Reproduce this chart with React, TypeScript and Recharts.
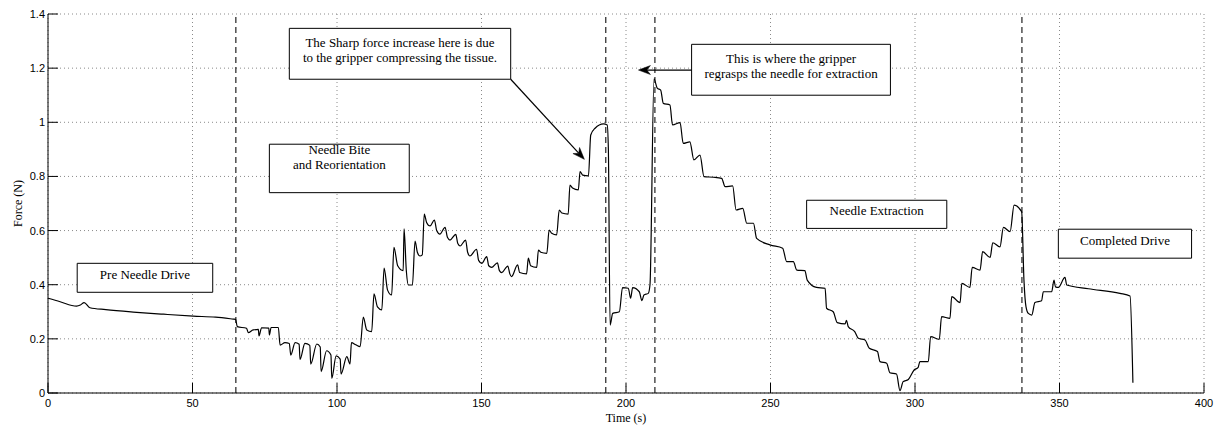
import {
  LineChart,
  Line,
  XAxis,
  YAxis,
  CartesianGrid,
  ReferenceLine,
  ReferenceArea,
} from "recharts";

// force trace (time in s, force in N)
const times = [
  0, 4.2, 9.9, 11.2, 12.5, 14.5, 20.0, 29.5, 40.0, 50.3, 58.0, 64.1, 64.9,
  65.5, 68.7, 69.3, 71.0, 72.8, 73.0, 73.9, 76.4, 76.6, 77.2, 79.7, 80.3, 82.0,
  83.5, 84.0, 85.5, 86.9, 87.2, 88.9, 90.6, 90.9, 93.0, 94.2, 94.5, 96.4, 97.9,
  98.2, 99.7, 101.1, 101.4, 103.4, 104.5, 105.0, 106.5, 108.0, 109.1, 110.3,
  112.0, 112.8, 114.0, 115.5, 116.3, 117.5, 118.9, 119.7, 121.0, 122.9, 123.2,
  124.0, 124.7, 126.1, 127.0, 127.8, 128.7, 129.5, 130.2,
  131.0, 132.2, 133.7, 134.5, 135.6, 137.4, 138.2, 139.1, 141.1, 141.8, 142.6,
  144.5, 145.2, 146.0, 148.3, 149.0, 150.1, 151.8, 152.5, 153.5, 155.5, 156.2,
  157.0, 159.1, 159.8, 160.4, 162.5, 163.2, 165.6, 166.2, 167.0, 169.1, 169.7,
  170.5, 172.6, 173.4, 174.3, 176.0, 176.9, 177.8, 180.0, 180.6, 181.5, 183.5,
  184.1, 185.0, 187.0, 187.8, 189.3, 192.2, 193.5, 193.9, 194.5,
  195.4, 197.7, 198.8, 200.8, 201.6, 202.3, 204.6, 205.5, 206.2, 207.7, 208.3,
  209.7,
  210.8, 212.0, 212.9, 215.2, 216.1, 218.7, 219.8, 222.1, 223.5, 225.6, 227.0,
  230.2, 233.1, 234.3, 236.9, 238.1, 240.4, 241.8, 244.1, 245.2, 249.8, 254.2,
  255.6, 257.9, 259.1, 261.9, 262.7, 265.9, 268.9, 269.4, 271.7, 273.1, 275.8,
  276.3, 276.9, 279.2, 280.4, 282.7, 284.2, 287.0, 287.9, 290.2, 291.3, 293.6,
  294.8, 295.9, 297.7, 299.7, 301.1, 301.7, 304.6, 305.4, 308.4, 309.2, 312.1,
  312.7, 315.6, 316.2, 319.0, 319.8, 322.5, 323.4, 326.0, 326.9, 329.4, 330.6,
  332.9, 334.3, 336.9, 337.7, 338.4, 339.2, 340.4, 341.5, 343.8, 344.4, 347.3,
  348.1, 348.6, 349.6, 351.9, 352.5, 360.0, 370.9, 374.4, 375.4,
];

const force = [
  0.35, 0.337, 0.321, 0.325, 0.334, 0.315, 0.308, 0.299, 0.291, 0.284, 0.28,
  0.273, 0.272,
  0.245, 0.239, 0.223, 0.233, 0.235, 0.211, 0.241, 0.24, 0.214, 0.242, 0.242,
  0.177, 0.186, 0.183, 0.14, 0.186, 0.18, 0.124, 0.183, 0.176, 0.107, 0.181,
  0.17, 0.079, 0.156, 0.14, 0.054, 0.137, 0.125, 0.07, 0.134, 0.107, 0.186,
  0.178, 0.171, 0.28, 0.233, 0.227, 0.366, 0.318, 0.307, 0.461, 0.38, 0.362,
  0.538, 0.47, 0.452, 0.606, 0.45, 0.399, 0.399, 0.561, 0.52, 0.506, 0.51,
  0.661,
  0.63, 0.617, 0.639, 0.6, 0.587, 0.612, 0.575, 0.565, 0.586, 0.552, 0.543,
  0.565, 0.52, 0.506, 0.531, 0.49, 0.479, 0.504, 0.47, 0.464, 0.481, 0.452,
  0.445, 0.469, 0.44, 0.43, 0.473, 0.445, 0.44, 0.498, 0.47, 0.464, 0.528,
  0.52, 0.516, 0.602, 0.59, 0.584, 0.676, 0.665, 0.661, 0.768, 0.757, 0.75,
  0.818, 0.805, 0.802, 0.953, 0.978, 0.994, 0.99, 0.9, 0.251,
  0.294, 0.3, 0.389, 0.387, 0.35, 0.389, 0.374, 0.341, 0.362, 0.368, 0.4,
  1.16,
  1.126, 1.119, 1.07, 1.064, 0.99, 0.999, 0.922, 0.928, 0.861, 0.879, 0.799,
  0.797, 0.793, 0.762, 0.765, 0.676, 0.682, 0.627, 0.627, 0.571, 0.547, 0.535,
  0.485, 0.485, 0.454, 0.452, 0.417, 0.39, 0.387, 0.313, 0.3, 0.26, 0.255,
  0.268, 0.245, 0.226, 0.202, 0.196, 0.165, 0.153, 0.116, 0.11, 0.075, 0.07,
  0.009, 0.042, 0.05, 0.085, 0.095, 0.116, 0.116, 0.208, 0.198, 0.282, 0.276,
  0.356, 0.334, 0.405, 0.39, 0.464, 0.454, 0.522, 0.501, 0.555, 0.54, 0.612,
  0.596, 0.694, 0.67, 0.417, 0.319, 0.294, 0.288, 0.334, 0.341, 0.374, 0.374,
  0.417, 0.392, 0.39, 0.427, 0.399, 0.385, 0.368, 0.358, 0.038,
];

const xTicks = [0, 50, 100, 150, 200, 250, 300, 350, 400];
const yTicks = [0, 0.2, 0.4, 0.6, 0.8, 1, 1.2, 1.4];

// phase boundaries (dashed lines)
const phaseLines = [65, 193, 210, 337];

// text boxes, in data coordinates
const boxes = [
  { x1: 10.1, x2: 57.0, y1: 0.372, y2: 0.479, lines: ["Pre Needle Drive"] },
  { x1: 76.6, x2: 125.0, y1: 0.74, y2: 0.919, lines: ["Needle Bite", "and Reorientation", ""] },
  {
    x1: 83.5, x2: 160.1, y1: 1.159, y2: 1.347,
    lines: ["The Sharp force increase here is due", "to the gripper compressing the tissue."],
  },
  {
    x1: 222.7, x2: 291.5, y1: 1.1, y2: 1.288,
    lines: ["This is where the gripper", "regrasps the needle for extraction"],
  },
  { x1: 262.5, x2: 311.0, y1: 0.608, y2: 0.712, lines: ["Needle Extraction"] },
  { x1: 349.6, x2: 395.7, y1: 0.498, y2: 0.605, lines: ["Completed Drive"] },
];

// arrows: from box to tip
const arrows = [
  [{ x: 160.1, y: 1.159 }, { x: 185.6, y: 0.863 }],
  [{ x: 222.7, y: 1.193 }, { x: 204.3, y: 1.193 }],
];

const chartData = times.map((t, i) => ({ t, f: force[i] }));

const sans = "Liberation Sans, Arial, Helvetica, sans-serif";
const serif = "Liberation Serif, Times New Roman, Times, serif";

const XTick = (props: any) => {
  const { x, y, payload } = props;
  return (
    <g>
      <line x1={x} y1={y} x2={x} y2={y - 10} stroke="#000" strokeWidth={1} />
      <text x={x} y={y + 14} textAnchor="middle" fontSize={11} style={{ fontFamily: sans }} fill="#000">
        {payload.value}
      </text>
    </g>
  );
};

const YTick = (props: any) => {
  const { x, y, payload } = props;
  return (
    <g>
      <line x1={x} y1={y} x2={x + 10} y2={y} stroke="#000" strokeWidth={1} />
      <text x={x - 3} y={y + 4} textAnchor="end" fontSize={11} style={{ fontFamily: sans }} fill="#000">
        {payload.value}
      </text>
    </g>
  );
};

const boxLabel = (lines: string[]) => (props: any) => {
  const vb = props.viewBox || {};
  const cx = vb.x + vb.width / 2;
  const cy = vb.y + vb.height / 2;
  const lh = 15;
  return (
    <g>
      {lines.map((l, i) => (
        <text
          key={i}
          x={cx}
          y={cy + (i - (lines.length - 1) / 2) * lh + 1}
          textAnchor="middle"
          fontSize={13}
          style={{ fontFamily: serif }}
          fill="#000"
        >
          {l}
        </text>
      ))}
    </g>
  );
};

const ArrowShape = (props: any) => {
  const { x1, y1, x2, y2 } = props;
  const ang = Math.atan2(y2 - y1, x2 - x1);
  const len = 12;
  const half = 4.5;
  const bx = x2 - len * Math.cos(ang);
  const by = y2 - len * Math.sin(ang);
  const nx = -Math.sin(ang);
  const ny = Math.cos(ang);
  const notchX = x2 - len * 0.7 * Math.cos(ang);
  const notchY = y2 - len * 0.7 * Math.sin(ang);
  const pts = [
    `${x2},${y2}`,
    `${bx + nx * half},${by + ny * half}`,
    `${notchX},${notchY}`,
    `${bx - nx * half},${by - ny * half}`,
  ].join(" ");
  return (
    <g>
      <line x1={x1} y1={y1} x2={notchX} y2={notchY} stroke="#000" strokeWidth={1.2} />
      <polygon points={pts} fill="#000" stroke="#000" strokeWidth={0.5} />
    </g>
  );
};

export default function App() {
  return (
    <div style={{ position: "absolute", left: 0, top: 0, background: "#fff" }}>
      <LineChart
        width={1221}
        height={425}
        data={chartData}
        margin={{ top: 14, right: 17, left: 0, bottom: 0 }}
      >
        <CartesianGrid stroke="#8a8a8a" strokeDasharray="1 3" strokeWidth={1} />
        <XAxis
          dataKey="t"
          type="number"
          domain={[0, 400]}
          ticks={xTicks}
          height={32}
          tickSize={0}
          tickMargin={0}
          tickLine={false}
          axisLine={{ stroke: "#000", strokeWidth: 1 }}
          tick={<XTick />}
          interval={0}
          label={{
            value: "Time (s)",
            position: "insideBottom",
            offset: 3,
            fontSize: 12,
            style: { fontFamily: serif },
            fill: "#000",
          }}
        />
        <YAxis
          type="number"
          domain={[0, 1.4]}
          ticks={yTicks}
          width={48}
          tickSize={0}
          tickMargin={0}
          tickLine={false}
          axisLine={{ stroke: "#000", strokeWidth: 1 }}
          tick={<YTick />}
          interval={0}
          label={{
            value: "Force (N)",
            angle: -90,
            position: "center",
            dx: -6,
            fontSize: 12,
            style: { fontFamily: serif },
            fill: "#000",
          }}
        />
        {phaseLines.map((x) => (
          <ReferenceLine
            key={x}
            x={x}
            stroke="#222"
            strokeWidth={1.2}
            strokeDasharray="6 4"
          />
        ))}
        <Line
          type="monotoneX"
          dataKey="f"
          stroke="#000"
          strokeWidth={1.2}
          dot={false}
          isAnimationActive={false}
        />
        {boxes.map((b, i) => (
          <ReferenceArea
            key={i}
            x1={b.x1}
            x2={b.x2}
            y1={b.y1}
            y2={b.y2}
            fill="#fff"
            fillOpacity={1}
            stroke="#000"
            strokeWidth={1}
            label={boxLabel(b.lines)}
          />
        ))}
        {arrows.map((seg, i) => (
          <ReferenceLine key={"a" + i} segment={seg} shape={ArrowShape} />
        ))}
      </LineChart>
    </div>
  );
}
